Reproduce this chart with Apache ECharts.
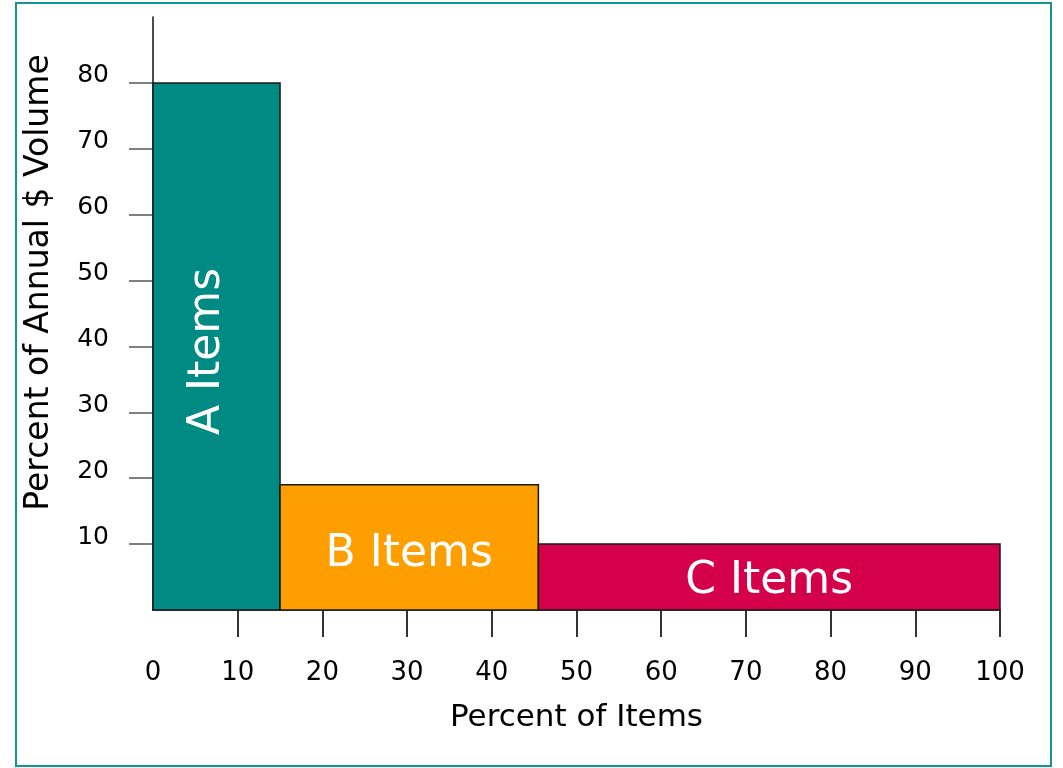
<!DOCTYPE html>
<html>
<head>
<meta charset="utf-8">
<script src="https://cdn.jsdelivr.net/npm/echarts@6/dist/echarts.min.js"></script>
<style>
html,body{margin:0;padding:0;background:#fff;}
#chart{width:1063px;height:768px;}
</style>
</head>
<body>
<div id="chart"></div>
<script>
// ---- data ----
const groups = ['A Items', 'B Items', 'C Items'];
const startPct = [0, 15, 45.5];          // percent of items: start of class
const endPct = [15, 45.5, 100];          // percent of items: end of class
const volumePct = [80, 19, 10];          // percent of annual $ volume
const xTickValues = [10, 20, 30, 40, 50, 60, 70, 80, 90, 100];
const xLabelValues = [0, 10, 20, 30, 40, 50, 60, 70, 80, 90, 100];
const yTickValues = [10, 20, 30, 40, 50, 60, 70, 80];
const xTitle = 'Percent of Items';
const yTitle = 'Percent of Annual $ Volume';

// ---- styles ----
const barColors = ['#008a84', '#ff9e00', '#d5004a'];
const FONT = 'DejaVu Sans';

const seriesData = groups.map((g, i) => [startPct[i], endPct[i], volumePct[i], g]);

const chart = echarts.init(document.getElementById('chart'), null, {renderer: 'canvas'});
chart.setOption({
  animation: false,
  backgroundColor: '#fff',
  graphic: [{
    type: 'rect',
    shape: {x: 16, y: 3, width: 1035, height: 763},
    style: {fill: 'none', stroke: '#139590', lineWidth: 2},
    z: -1
  }],
  grid: {left: 153, right: 63, top: 17, bottom: 158, containLabel: false},
  xAxis: {
    type: 'value', min: 0, max: 100, interval: 10,
    name: xTitle, nameLocation: 'middle', nameGap: 92,
    nameTextStyle: {fontFamily: FONT, fontSize: 31, color: '#000'},
    axisLine: {show: true, lineStyle: {color: '#111', width: 1.5}},
    axisTick: {show: true, length: 27, lineStyle: {color: '#333', width: 2}, customValues: xTickValues},
    axisLabel: {fontFamily: FONT, fontSize: 26, color: '#000', margin: 50, customValues: xLabelValues},
    splitLine: {show: false}
  },
  yAxis: {
    type: 'value', min: 0, max: 90, interval: 10,
    name: yTitle, nameLocation: 'middle', nameGap: 97, nameRotate: 90,
    nameTextStyle: {fontFamily: FONT, fontSize: 33, color: '#000', padding: [0, 0, 0, 62]},
    axisLine: {show: true, lineStyle: {color: '#111', width: 1.5}},
    axisTick: {show: true, length: 24, lineStyle: {color: '#555', width: 1.5}, customValues: yTickValues},
    axisLabel: {fontFamily: FONT, fontSize: 25, color: '#000', margin: 44, verticalAlign: 'bottom', lineHeight: 14, customValues: yTickValues},
    splitLine: {show: false}
  },
  series: [{
    type: 'custom',
    data: seriesData,
    encode: {x: [0, 1], y: 2},
    renderItem: function (params, api) {
      const idx = params.dataIndex;
      const p0 = api.coord([api.value(0), 0]);
      const p1 = api.coord([api.value(1), api.value(2)]);
      const cx = (p0[0] + p1[0]) / 2;
      const cy = (p0[1] + p1[1]) / 2;
      return {
        type: 'group',
        children: [{
          type: 'rect',
          shape: {x: p0[0], y: p1[1], width: p1[0] - p0[0], height: p0[1] - p1[1]},
          style: {fill: barColors[idx], stroke: '#1a1a1a', lineWidth: 1.5}
        }, {
          type: 'text',
          x: idx === 0 ? cx - 9 : cx,
          y: idx === 0 ? cy + 5 : (idx === 1 ? cy + 7 : cy + 5),
          rotation: idx === 0 ? Math.PI / 2 : 0,
          style: {
            text: groups[idx], fill: '#fff', fontFamily: FONT, fontSize: 44,
            align: 'center', verticalAlign: 'middle'
          }
        }]
      };
    }
  }]
});
</script>
</body>
</html>
